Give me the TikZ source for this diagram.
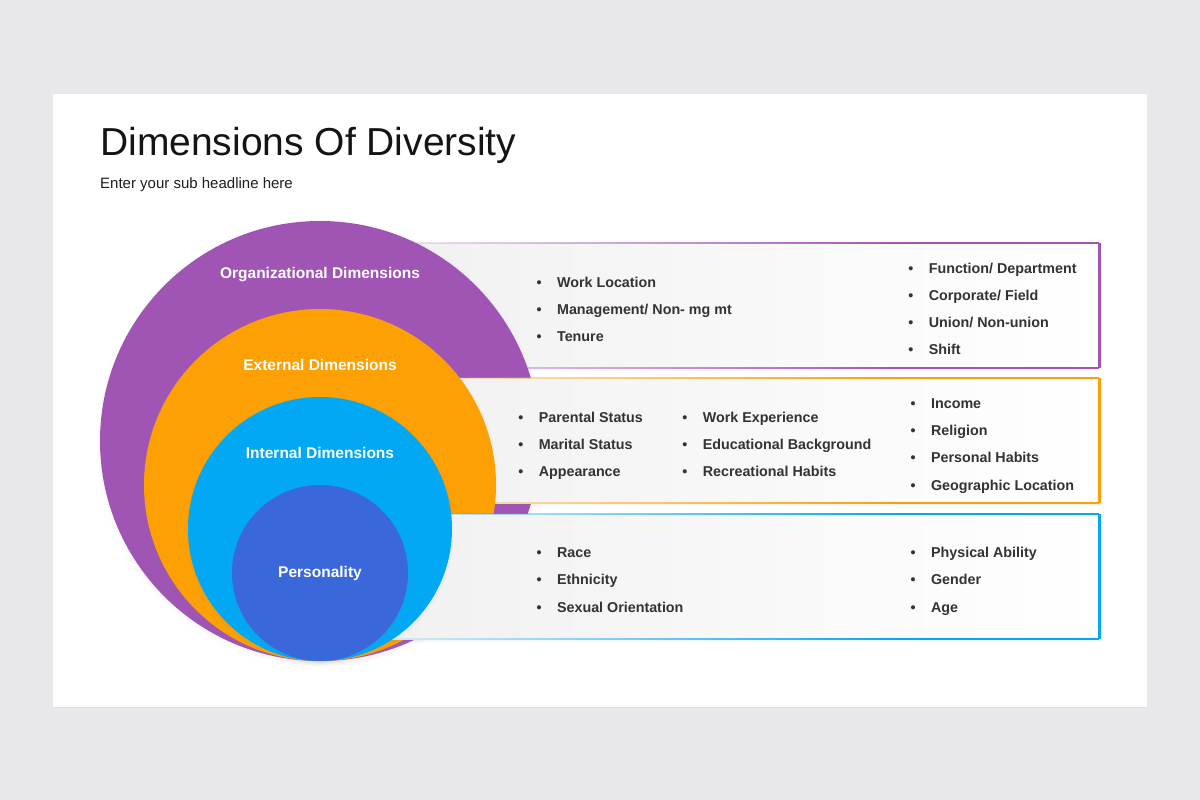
\documentclass[tikz,border=0pt]{standalone}
\usepackage{fontspec}
\setmainfont{Liberation Sans}
\usetikzlibrary{shadows,fadings}

\definecolor{pagebg}{HTML}{E8E7E9}
\definecolor{orgpurple}{HTML}{A055B5}
\definecolor{extorange}{HTML}{FCA003}
\definecolor{intblue}{HTML}{03A8F4}
\definecolor{perblue}{HTML}{3A68DA}
\definecolor{itemtext}{HTML}{333333}

% border fades in from the left
\pgfdeclarehorizontalshading{edgeshade}{100bp}{color(0bp)=(black); color(25bp)=(black); color(62bp)=(white); color(100bp)=(white)}
\pgfdeclarefading{edgefade}{\pgfuseshading{edgeshade}}

\newcommand{\bul}{\makebox[20.5pt][l]{\textbullet}}

\begin{document}
\begin{tikzpicture}[
    x=1pt, y=-1pt,
    slide/.style={draw=none,fill=white,inner sep=0pt,outer sep=0pt,anchor=north west},
    panel/.style={rectangle,inner sep=0pt,outer sep=0pt,anchor=north east,
        minimum width=770pt,minimum height=125pt,left color=black!6,right color=white,
        drop shadow={shadow xshift=0pt,shadow yshift=-3pt,opacity=0.08}},
    edge/.style={line width=1.6pt,path fading=edgefade,fit fading=true},
    ring/.style={circle,inner sep=0pt,outer sep=0pt,
        circular drop shadow={shadow xshift=0pt,shadow yshift=-2pt,shadow scale=1.02,opacity=0.25}},
    ringlabel/.style={text=white,font=\fontsize{15.5}{18}\selectfont\bfseries},
    item/.style={anchor=base west,inner sep=0pt,text=itemtext,font=\fontsize{14.3}{17}\selectfont\bfseries}
]
    \useasboundingbox (0,0) rectangle (1200,800);
    \fill[pagebg] (0,0) rectangle (1200,800);
    \node[slide,minimum width=1094pt,minimum height=613pt,
        drop shadow={shadow xshift=0pt,shadow yshift=-1pt,opacity=0.08}] (page) at (53,94) {};

    % Heading
    \node[anchor=base west,inner sep=0pt,text=black!92,font=\fontsize{39}{44}\selectfont] (title) at (100,155) {Dimensions Of Diversity};
    \node[anchor=base west,inner sep=0pt,text=black!88,font=\fontsize{15}{18}\selectfont] (subtitle) at (100,188) {Enter your sub headline here};

    % Layers: panel behind each ring
    \node[panel] (orgbox) at (1100,243) {};
    \draw[orgpurple,edge] (orgbox.north west) rectangle (orgbox.south east);
    \draw[orgpurple,line width=1.6pt] (orgbox.north east) -- (orgbox.south east);
    \node[ring,fill=orgpurple,minimum size=440pt] (org) at (320,441) {};

    \node[panel] (extbox) at (1100,378) {};
    \draw[extorange,edge] (extbox.north west) rectangle (extbox.south east);
    \draw[extorange,line width=1.6pt] (extbox.north east) -- (extbox.south east);
    \node[ring,fill=extorange,minimum size=352pt] (ext) at (320,485) {};

    \node[panel] (intbox) at (1100,514) {};
    \draw[intblue,edge] (intbox.north west) rectangle (intbox.south east);
    \draw[intblue,line width=1.6pt] (intbox.north east) -- (intbox.south east);
    \node[ring,fill=intblue,minimum size=264pt] (int) at (320,529) {};
    \node[ring,fill=perblue,minimum size=176pt] (per) at (320,573) {};

    % Ring labels
    \node[ringlabel] (orglabel) at (320,275) {Organizational Dimensions};
    \node[ringlabel] (extlabel) at (320,365) {External Dimensions};
    \node[ringlabel] (intlabel) at (320,453) {Internal Dimensions};
    \node[ringlabel] (perlabel) at (320,573) {Personality};

    % Organizational items
    \node[item] (o1) at (536.4,287) {\bul Work Location};
    \node[item] (o2) at (536.4,314) {\bul Management/ Non- mg mt};
    \node[item] (o3) at (536.4,341) {\bul Tenure};
    \node[item] (o4) at (908.1,273) {\bul Function/ Department};
    \node[item] (o5) at (908.1,300) {\bul Corporate/ Field};
    \node[item] (o6) at (908.1,327) {\bul Union/ Non-union};
    \node[item] (o7) at (908.1,354) {\bul Shift};

    % External items
    \node[item] (e1) at (518.1,422) {\bul Parental Status};
    \node[item] (e2) at (518.1,449) {\bul Marital Status};
    \node[item] (e3) at (518.1,476) {\bul Appearance};
    \node[item] (e4) at (682.1,422) {\bul Work Experience};
    \node[item] (e5) at (682.1,449) {\bul Educational Background};
    \node[item] (e6) at (682.1,476) {\bul Recreational Habits};
    \node[item] (e7) at (910.4,408.5) {\bul Income};
    \node[item] (e8) at (910.4,435.5) {\bul Religion};
    \node[item] (e9) at (910.4,462.5) {\bul Personal Habits};
    \node[item] (e10) at (910.4,490) {\bul Geographic Location};

    % Internal items
    \node[item] (i1) at (536.4,557.5) {\bul Race};
    \node[item] (i2) at (536.4,584.5) {\bul Ethnicity};
    \node[item] (i3) at (536.4,612) {\bul Sexual Orientation};
    \node[item] (i4) at (910.4,557.5) {\bul Physical Ability};
    \node[item] (i5) at (910.4,584.5) {\bul Gender};
    \node[item] (i6) at (910.4,612) {\bul Age};
\end{tikzpicture}
\end{document}
